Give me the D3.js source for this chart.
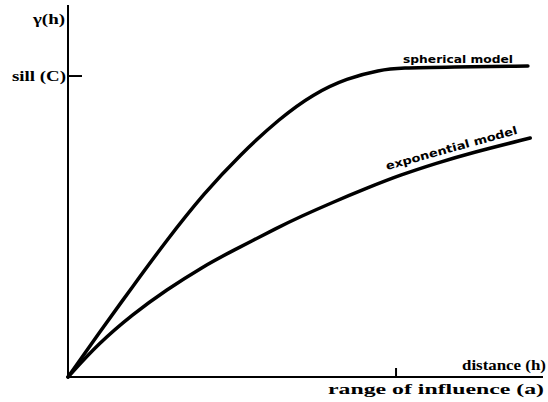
<!DOCTYPE html>
<html lang="en">
<head>
<meta charset="UTF-8">
<title>Variogram models</title>
<script src="https://d3js.org/d3.v7.min.js"></script>
<style>
  body { margin: 0; background: #fff; }
</style>
</head>
<body>
<svg id="chart" width="548" height="402"></svg>
<script>
// distance in units of range (a = 1), gamma in units of sill (C = 1)
var sphericalH = [0, 0.0945, 0.198, 0.299, 0.415, 0.524, 0.646, 0.747, 0.851, 0.951, 1.012, 1.165, 1.402];
var sphericalG = [0, 0.146, 0.302, 0.452, 0.611, 0.738, 0.860, 0.940, 0.993, 1.020, 1.027, 1.030, 1.033];
var exponentialH = [0, 0.0945, 0.198, 0.299, 0.415, 0.494, 0.646, 0.707, 0.808, 0.912, 1.012, 1.125, 1.226, 1.409];
var exponentialG = [0, 0.113, 0.209, 0.289, 0.369, 0.415, 0.500, 0.532, 0.581, 0.628, 0.671, 0.711, 0.744, 0.794];
var sillValue = 1, rangeValue = 1;

var serif = "'Liberation Serif', 'DejaVu Serif', 'Times New Roman', serif";
var sans = "'DejaVu Sans', 'Liberation Sans', sans-serif";

var svg = d3.select("#chart");

// origin at (68,377), a -> x 396, C -> y 76
var x = d3.scaleLinear().domain([0, 1.448]).range([68, 543]);
var y = d3.scaleLinear().domain([0, 1.236]).range([377, 5]);

var line = d3.line()
    .x(function(d) { return x(d[0]); })
    .y(function(d) { return y(d[1]); })
    .curve(d3.curveBasis);

// axes
svg.append("line")
    .attr("x1", x(0)).attr("x2", x(0))
    .attr("y1", y(0) + 1).attr("y2", y(1.236))
    .attr("stroke", "#000").attr("stroke-width", 2);
svg.append("line")
    .attr("x1", x(0)).attr("x2", x(1.448))
    .attr("y1", y(0)).attr("y2", y(0))
    .attr("stroke", "#000").attr("stroke-width", 2);

// sill tick
svg.append("line")
    .attr("x1", x(0)).attr("x2", x(0) + 14)
    .attr("y1", y(sillValue)).attr("y2", y(sillValue))
    .attr("stroke", "#000").attr("stroke-width", 2);
// range tick
svg.append("line")
    .attr("x1", x(rangeValue)).attr("x2", x(rangeValue))
    .attr("y1", y(0)).attr("y2", y(0) - 9)
    .attr("stroke", "#000").attr("stroke-width", 2);

// curves
svg.append("path")
    .datum(d3.zip(sphericalH, sphericalG))
    .attr("d", line)
    .attr("fill", "none").attr("stroke", "#000")
    .attr("stroke-width", 3.5).attr("stroke-linecap", "round");
svg.append("path")
    .datum(d3.zip(exponentialH, exponentialG))
    .attr("d", line)
    .attr("fill", "none").attr("stroke", "#000")
    .attr("stroke-width", 3.5).attr("stroke-linecap", "round");

// axis labels
function label(txt, xx, yy, len) {
  var t = svg.append("text")
      .attr("x", xx).attr("y", yy)
      .attr("font-family", serif)
      .attr("font-weight", "bold")
      .attr("font-size", 14)
      .attr("fill", "#000")
      .text(txt);
  if (len) t.attr("textLength", len).attr("lengthAdjust", "spacingAndGlyphs");
  return t;
}
label("γ(h)", 33, 24, 32);
label("sill (C)", 12, y(sillValue) + 5, 54);
label("distance (h)", 462, 370, 84);
label("range of influence (a)", 328, 394, 216);

// curve labels
svg.append("text")
    .attr("x", 403).attr("y", 63)
    .attr("font-family", sans).attr("font-weight", "bold").attr("font-size", 11)
    .attr("textLength", 110).attr("lengthAdjust", "spacingAndGlyphs")
    .text("spherical model");
svg.append("text")
    .attr("transform", "translate(387,170) rotate(-15.5)")
    .attr("font-family", sans).attr("font-weight", "bold").attr("font-size", 11)
    .attr("textLength", 136).attr("lengthAdjust", "spacingAndGlyphs")
    .text("exponential model");
</script>
</body>
</html>
